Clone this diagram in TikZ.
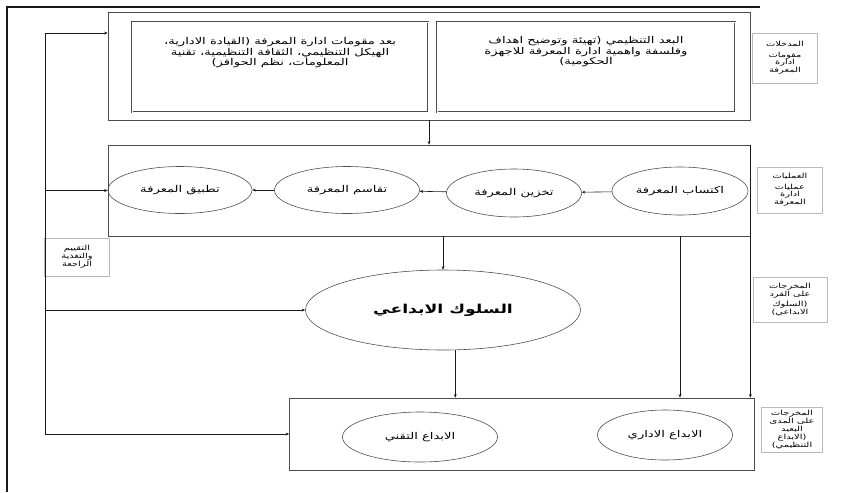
\documentclass[tikz,border=0pt]{standalone}
\usepackage{fontspec}
\usetikzlibrary{shapes.geometric,arrows.meta}
\TeXXeTstate=1
\newfontfamily\arabicfont[Script=Arabic,FakeStretch=1.4]{DejaVu Sans}
\newcommand{\artext}[1]{\beginR #1\endR}

\begin{document}
\begin{tikzpicture}[x=0.03cm,y=-0.03cm,
    box/.style={draw=gray!60!black, line width=0.6pt, inner sep=0pt},
    oval/.style={ellipse, draw=gray!60!black, line width=0.5pt, inner sep=0pt,
      font=\arabicfont\fontsize{8}{9}\selectfont},
    txt/.style={align=center, inner sep=0pt, font=\arabicfont\fontsize{8}{9}\selectfont},
    tag/.style={draw=gray!55, line width=0.4pt, align=center, inner sep=1pt,
      font=\arabicfont\fontsize{6}{6.8}\selectfont},
    link/.style={-{Stealth[length=3pt,width=2.5pt]}, line width=0.5pt, gray!20!black}]
    \useasboundingbox (0,0) rectangle (841,492);
    \draw[line width=1pt, gray!20!black] (7,492) -- (7,7) -- (760,7);

    % inputs
    \node[box, minimum width=19.26cm, minimum height=3.24cm] (topbox) at (429,66) {};
    \node[box, double, double distance=0.6pt, minimum width=8.94cm, minimum height=2.7cm] (dimorg) at (586,67) {};
    \node[box, double, double distance=0.6pt, minimum width=8.88cm, minimum height=2.7cm] (dimbase) at (280,67) {};
    \node[txt] (dimorgtxt) at (586,52) {\artext{البعد التنظيمي (تهيئة وتوضيح اهداف}\\
      \artext{وفلسفة واهمية ادارة المعرفة للاجهزة}\\ \artext{الحكومية)}};
    \node[txt] (dimbasetxt) at (280,53) {\artext{بعد مقومات ادارة المعرفة (القيادة الادارية،}\\
      \artext{الهيكل التنظيمي، الثقافة التنظيمية، تقنية}\\ \artext{المعلومات، نظم الحوافز)}};

    % processes
    \node[box, minimum width=19.26cm, minimum height=2.73cm] (procbox) at (429,190.5) {};
    \node[oval, minimum width=4.08cm, minimum height=1.44cm] (acquire) at (680,191) {\artext{اكتساب المعرفة}};
    \node[oval, minimum width=4.05cm, minimum height=1.44cm] (store) at (514,193) {\artext{تخزين المعرفة}};
    \node[oval, minimum width=4.35cm, minimum height=1.41cm] (share) at (347,190) {\artext{تقاسم المعرفة}};
    \node[oval, minimum width=4.32cm, minimum height=1.41cm] (apply) at (180,190) {\artext{تطبيق المعرفة}};

    % outputs
    \node[oval, minimum width=8.25cm, minimum height=2.4cm,
      font=\arabicfont\bfseries\fontsize{10.5}{12}\selectfont] (behav) at (443,310) {\artext{السلوك الابداعي}};
    \node[box, minimum width=13.95cm, minimum height=2.16cm] (outbox) at (522,434) {};
    \node[oval, minimum width=4.05cm, minimum height=1.5cm] (admin) at (665,435) {\artext{الابداع الاداري}};
    \node[oval, minimum width=4.65cm, minimum height=1.5cm] (tech) at (420,437) {\artext{الابداع التقني}};

    % side labels
    \node[tag, minimum width=1.95cm, minimum height=1.5cm] (tagin) at (785,58)
      {\artext{المدخلات}\\[2pt] \artext{مقومات}\\ \artext{ادارة}\\ \artext{المعرفة}};
    \node[tag, minimum width=1.95cm, minimum height=1.38cm] (tagproc) at (790,190)
      {\artext{العمليات}\\[2pt] \artext{عمليات}\\ \artext{ادارة}\\ \artext{المعرفة}};
    \node[tag, minimum width=2.22cm, minimum height=1.35cm] (tagind) at (790,300)
      {\artext{المخرجات}\\ \artext{على الفرد}\\[2pt] \artext{(السلوك}\\ \artext{الابداعي)}};
    \node[tag, minimum width=1.83cm, minimum height=1.35cm] (taglong) at (792,430)
      {\artext{المخرجات}\\ \artext{على المدى}\\ \artext{البعيد}\\ \artext{(الابداع}\\ \artext{التنظيمي)}};
    \node[tag, minimum width=1.95cm, minimum height=1.14cm] (tagfb) at (77,257)
      {\artext{التقييم}\\ \artext{والتغذية}\\ \artext{الراجعة}};

    % flow
    \path[link] (topbox.south) edge (procbox.north);
    \path[link] (acquire) edge (store);
    \path[link] (store) edge (share);
    \path[link] (share) edge (apply);
    \path[link] (behav.north |- procbox.south) edge (behav.north);
    \path[link] (behav.-73) edge (behav.-73 |- outbox.north);
    \path[link] (acquire |- procbox.south) edge (acquire |- outbox.north);
    \path[link] (procbox.north east) edge (procbox.north east |- outbox.north);

    % feedback
    \coordinate (fbtop) at (45,33);
    \coordinate (fbend) at (45,434);
    \draw[line width=0.5pt, gray!20!black] (fbtop) -- (fbend);
    \path[link] (fbtop) edge (fbtop -| topbox.west);
    \path[link] (fbtop |- procbox.west) edge (procbox.west);
    \path[link] (fbtop |- behav.west) edge (behav.west);
    \path[link] (fbend) edge (outbox.west);
  \end{tikzpicture}
\end{document}
